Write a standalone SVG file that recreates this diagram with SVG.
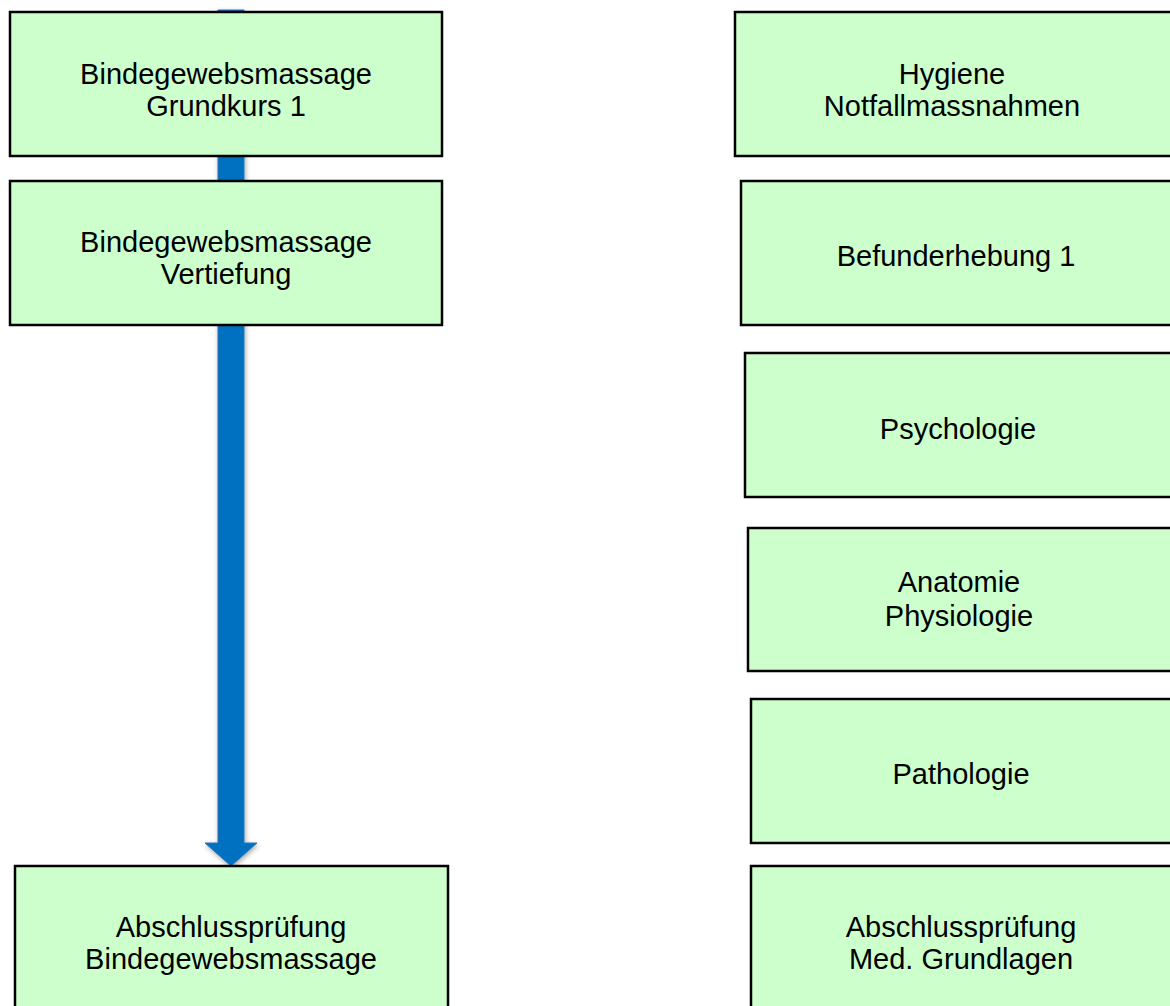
<svg xmlns="http://www.w3.org/2000/svg" width="1170" height="1006" viewBox="0 0 1170 1006">
<style>
.box{fill:#CCFFCC;stroke:#000;stroke-width:2.5}
.t{font-family:"Liberation Sans",Arial,sans-serif;font-size:29px;fill:#000;text-anchor:middle}
</style>
<defs>
<filter id="sh" x="-50%" y="-5%" width="200%" height="110%">
<feGaussianBlur in="SourceAlpha" stdDeviation="2.5"/>
<feOffset dx="1" dy="2" result="b"/>
<feComponentTransfer><feFuncA type="linear" slope="0.35"/></feComponentTransfer>
<feMerge><feMergeNode/><feMergeNode in="SourceGraphic"/></feMerge>
</filter>
</defs>
<g id="connectors">
<path d="M218,10 H244 V843 H257 L231,866 L205,843 H218 Z" fill="#0070C0" stroke="#2E75B6" stroke-width="1" filter="url(#sh)"/>
</g>
<g id="n1"><rect class="box" x="10" y="12" width="432" height="144"/><text class="t" x="226" y="84">Bindegewebsmassage</text><text class="t" x="226" y="116">Grundkurs 1</text></g>
<g id="n2"><rect class="box" x="10" y="181" width="432" height="144"/><text class="t" x="226" y="252">Bindegewebsmassage</text><text class="t" x="226" y="284">Vertiefung</text></g>
<g id="n3"><rect class="box" x="15" y="866" width="433" height="142"/><text class="t" x="231" y="937">Abschlussprüfung</text><text class="t" x="231" y="969">Bindegewebsmassage</text></g>
<g id="r1"><rect class="box" x="735" y="12" width="437" height="144"/><text class="t" x="952" y="84">Hygiene</text><text class="t" x="952" y="116">Notfallmassnahmen</text></g>
<g id="r2"><rect class="box" x="741" y="181" width="431" height="144"/><text class="t" x="956" y="266">Befunderhebung 1</text></g>
<g id="r3"><rect class="box" x="745" y="353" width="427" height="144"/><text class="t" x="958" y="439">Psychologie</text></g>
<g id="r4"><rect class="box" x="748" y="528" width="424" height="143"/><text class="t" x="959" y="592">Anatomie</text><text class="t" x="959" y="626">Physiologie</text></g>
<g id="r5"><rect class="box" x="751" y="699" width="421" height="144"/><text class="t" x="961" y="784">Pathologie</text></g>
<g id="r6"><rect class="box" x="751" y="866" width="421" height="142"/><text class="t" x="961" y="937">Abschlussprüfung</text><text class="t" x="961" y="969">Med. Grundlagen</text></g>
</svg>
